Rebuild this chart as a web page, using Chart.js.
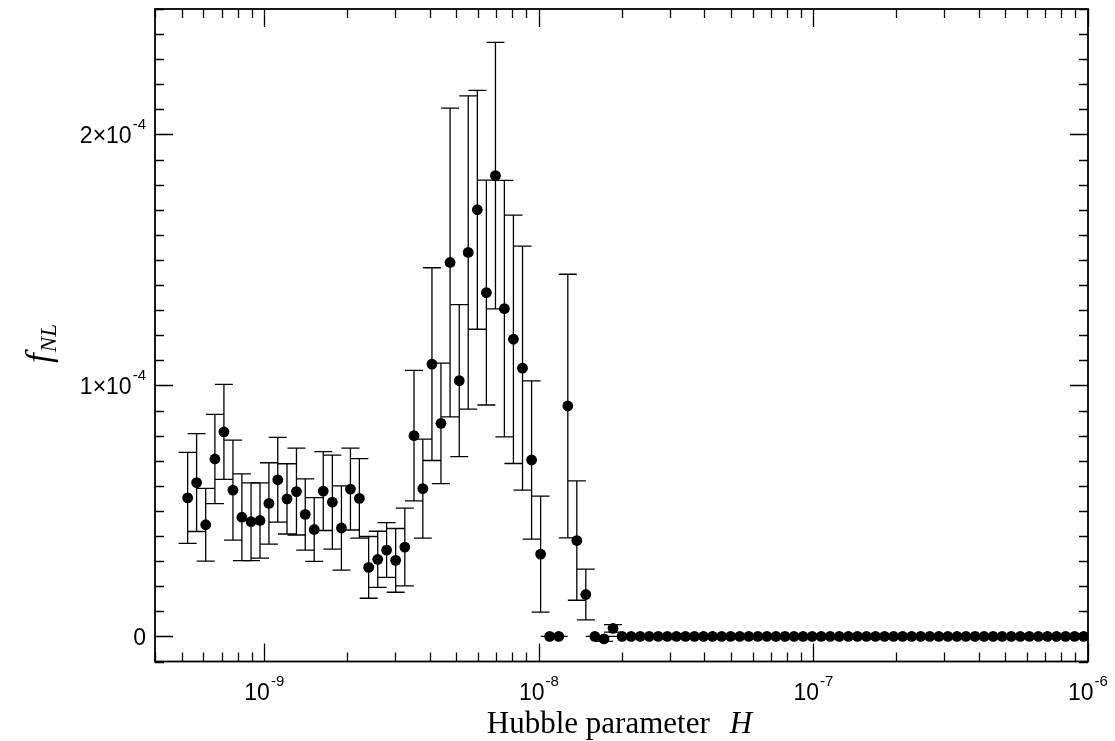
<!DOCTYPE html>
<html>
<head>
<meta charset="utf-8">
<script src="https://cdn.jsdelivr.net/npm/chart.js@4/dist/chart.umd.min.js"></script>
<style>
  html, body { margin: 0; padding: 0; background: #fff; }
  #wrap { width: 1115px; height: 741px; }
</style>
</head>
<body>
<div id="wrap"><canvas id="c" width="1115" height="741"></canvas></div>
<script>
// Hubble parameter grid (log-spaced samples)
const hubble = [
  5.26e-10, 5.67e-10, 6.12e-10, 6.61e-10, 7.13e-10, 7.69e-10, 8.29e-10, 8.95e-10, 9.65e-10, 1.04e-9,
  1.12e-9, 1.21e-9, 1.31e-9, 1.41e-9, 1.52e-9, 1.64e-9, 1.77e-9, 1.91e-9, 2.06e-9, 2.22e-9,
  2.40e-9, 2.59e-9, 2.79e-9, 3.01e-9, 3.25e-9, 3.51e-9, 3.78e-9, 4.08e-9, 4.40e-9, 4.75e-9,
  5.13e-9, 5.53e-9, 5.97e-9, 6.44e-9, 6.95e-9, 7.49e-9, 8.08e-9, 8.72e-9, 9.41e-9, 1.015e-8,
  1.095e-8, 1.181e-8, 1.275e-8, 1.375e-8, 1.483e-8, 1.600e-8, 1.727e-8, 1.863e-8, 2.010e-8, 2.168e-8,
  2.339e-8, 2.523e-8, 2.722e-8, 2.937e-8, 3.169e-8, 3.419e-8, 3.688e-8, 3.979e-8, 4.293e-8, 4.631e-8,
  4.996e-8, 5.390e-8, 5.815e-8, 6.274e-8, 6.768e-8, 7.302e-8, 7.878e-8, 8.499e-8, 9.169e-8, 9.892e-8,
  1.067e-7, 1.151e-7, 1.242e-7, 1.340e-7, 1.446e-7, 1.560e-7, 1.683e-7, 1.815e-7, 1.959e-7, 2.113e-7,
  2.280e-7, 2.459e-7, 2.653e-7, 2.862e-7, 3.088e-7, 3.332e-7, 3.594e-7, 3.878e-7, 4.183e-7, 4.513e-7,
  4.869e-7, 5.253e-7, 5.667e-7, 6.114e-7, 6.596e-7, 7.116e-7, 7.677e-7, 8.283e-7, 8.936e-7, 9.641e-7
];

// Mean f_NL at each H
const fNL = [
  5.52e-5, 6.13e-5, 4.45e-5, 7.07e-5, 8.15e-5, 5.83e-5, 4.75e-5, 4.57e-5, 4.62e-5, 5.30e-5,
  6.24e-5, 5.48e-5, 5.77e-5, 4.86e-5, 4.26e-5, 5.79e-5, 5.35e-5, 4.32e-5, 5.87e-5, 5.50e-5,
  2.75e-5, 3.07e-5, 3.44e-5, 3.03e-5, 3.56e-5, 8.00e-5, 5.89e-5, 10.85e-5, 8.49e-5, 14.90e-5,
  10.19e-5, 15.30e-5, 17.00e-5, 13.70e-5, 18.36e-5, 13.06e-5, 11.84e-5, 10.69e-5, 7.03e-5, 3.28e-5,
  0, 0, 9.18e-5, 3.82e-5, 1.67e-5, 0, -0.10e-5, 0.32e-5, 0, 0,
  0, 0, 0, 0, 0, 0, 0, 0, 0, 0,
  0, 0, 0, 0, 0, 0, 0, 0, 0, 0,
  0, 0, 0, 0, 0, 0, 0, 0, 0, 0,
  0, 0, 0, 0, 0, 0, 0, 0, 0, 0,
  0, 0, 0, 0, 0, 0, 0, 0, 0, 0
];

// Symmetric 1-sigma errors
const fNLerr = [
  1.81e-5, 1.95e-5, 1.45e-5, 1.78e-5, 1.89e-5, 1.99e-5, 1.73e-5, 1.55e-5, 1.50e-5, 1.62e-5,
  1.69e-5, 1.40e-5, 1.73e-5, 1.42e-5, 1.27e-5, 1.57e-5, 1.87e-5, 1.68e-5, 1.63e-5, 1.58e-5,
  1.23e-5, 1.12e-5, 1.09e-5, 1.27e-5, 1.55e-5, 2.60e-5, 1.97e-5, 3.84e-5, 2.40e-5, 6.15e-5,
  3.03e-5, 6.24e-5, 4.76e-5, 4.48e-5, 5.31e-5, 5.11e-5, 4.95e-5, 4.86e-5, 3.15e-5, 2.31e-5,
  0, 0, 5.25e-5, 2.38e-5, 1.01e-5, 0, 0.10e-5, 0.15e-5, 0, 0,
  0, 0, 0, 0, 0, 0, 0, 0, 0, 0,
  0, 0, 0, 0, 0, 0, 0, 0, 0, 0,
  0, 0, 0, 0, 0, 0, 0, 0, 0, 0,
  0, 0, 0, 0, 0, 0, 0, 0, 0, 0,
  0, 0, 0, 0, 0, 0, 0, 0, 0, 0
];

// Axis ranges and tick labels
const xRange = [4e-10, 1e-6];
const yRange = [-1e-5, 2.5e-4];
const xTickValues = [1e-9, 1e-8, 1e-7, 1e-6];
const xTickExponents = ['-9', '-8', '-7', '-6'];
const yTickValues = [0, 1e-4, 2e-4];
const yTickMantissas = ['0', '1\u00d710', '2\u00d710'];
const yTickExponents = ['', '-4', '-4'];
const yMinorStep = 1e-5;

const TICK_FONT = '23px "Liberation Sans", Arial, sans-serif';
const SUP_FONT = '15px "Liberation Sans", Arial, sans-serif';

// Vertical error bars with caps, drawn under the markers
const errorBars = {
  id: 'errorBars',
  beforeDatasetsDraw(chart) {
    const { ctx, chartArea: a, scales: { x, y } } = chart;
    ctx.save();
    ctx.beginPath();
    ctx.rect(a.left, a.top, a.right - a.left, a.bottom - a.top);
    ctx.clip();
    ctx.strokeStyle = '#000';
    ctx.lineWidth = 1.3;
    const cap = 9;
    hubble.forEach((h, i) => {
      const px = x.getPixelForValue(h);
      const yt = y.getPixelForValue(fNL[i] + fNLerr[i]);
      const yb = y.getPixelForValue(fNL[i] - fNLerr[i]);
      ctx.beginPath();
      ctx.moveTo(px, yt); ctx.lineTo(px, yb);
      ctx.moveTo(px - cap, yt); ctx.lineTo(px + cap, yt);
      ctx.moveTo(px - cap, yb); ctx.lineTo(px + cap, yb);
      ctx.stroke();
    });
    ctx.restore();
  }
};

// Draws "base" with a raised exponent; align is 'center' or 'right'
function drawPower(ctx, base, exp, x, baseline, align) {
  ctx.font = TICK_FONT;
  const wb = ctx.measureText(base).width;
  ctx.font = SUP_FONT;
  const we = exp ? ctx.measureText(exp).width + 1 : 0;
  const total = wb + we;
  const start = align === 'center' ? x - total / 2 : x - total;
  ctx.textAlign = 'left';
  ctx.textBaseline = 'alphabetic';
  ctx.font = TICK_FONT;
  ctx.fillText(base, start, baseline);
  if (exp) {
    ctx.font = SUP_FONT;
    ctx.fillText(exp, start + wb + 1, baseline - 14);
  }
}

// Boxed frame with inward ticks on all four sides, tick labels and axis titles
const frame = {
  id: 'frame',
  afterDraw(chart) {
    const { ctx, chartArea: a, scales: { x, y } } = chart;
    ctx.save();
    ctx.strokeStyle = '#000';
    ctx.fillStyle = '#000';
    ctx.lineWidth = 1.3;
    const major = 18, minor = 9;

    // y ticks (left and right)
    ctx.beginPath();
    for (let v = yRange[0]; v <= yRange[1] + 1e-12; v += yMinorStep) {
      const py = Math.round(y.getPixelForValue(v)) + 0.5;
      const isMajor = yTickValues.some(t => Math.abs(t - v) < 1e-9);
      const len = isMajor ? major : minor;
      ctx.moveTo(a.left, py); ctx.lineTo(a.left + len, py);
      ctx.moveTo(a.right, py); ctx.lineTo(a.right - len, py);
    }
    // x ticks (bottom and top)
    for (let d = -10; d <= -6; d++) {
      for (let k = 1; k <= 9; k++) {
        const v = k * Math.pow(10, d);
        if (v < xRange[0] * 0.999 || v > xRange[1] * 1.001) continue;
        const px = Math.round(x.getPixelForValue(v)) + 0.5;
        const len = k === 1 ? major : minor;
        ctx.moveTo(px, a.bottom); ctx.lineTo(px, a.bottom - len);
        ctx.moveTo(px, a.top); ctx.lineTo(px, a.top + len);
      }
    }
    ctx.stroke();

    // frame
    ctx.lineWidth = 1.8;
    ctx.strokeRect(a.left, a.top, a.right - a.left, a.bottom - a.top);

    // y tick labels
    yTickValues.forEach((v, i) => {
      const py = y.getPixelForValue(v);
      drawPower(ctx, yTickMantissas[i], yTickExponents[i], a.left - 9, py + 9, 'right');
    });
    // x tick labels
    xTickValues.forEach((v, i) => {
      const px = x.getPixelForValue(v);
      drawPower(ctx, '10', xTickExponents[i], px, a.bottom + 38.5, 'center');
    });

    // x axis title: "Hubble parameter  H"
    const cx = (a.left + a.right) / 2;
    ctx.font = '31px "Liberation Serif", "Times New Roman", serif';
    const t1 = 'Hubble parameter';
    const w1 = ctx.measureText(t1).width;
    ctx.font = 'italic 31px "Liberation Serif", "Times New Roman", serif';
    const wH = ctx.measureText('H').width;
    const gap = 20;
    const sx = cx - (w1 + gap + wH) / 2 - 2;
    ctx.textAlign = 'left';
    ctx.textBaseline = 'alphabetic';
    ctx.font = '31px "Liberation Serif", "Times New Roman", serif';
    ctx.fillText(t1, sx, 733);
    ctx.font = 'italic 31px "Liberation Serif", "Times New Roman", serif';
    ctx.fillText('H', sx + w1 + gap, 733);

    // y axis title: f_NL (rotated)
    ctx.save();
    ctx.translate(50, 344);
    ctx.rotate(-Math.PI / 2);
    ctx.font = 'italic 35px "Liberation Serif", "Times New Roman", serif';
    const wf = ctx.measureText('f').width;
    ctx.font = 'italic 23px "Liberation Serif", "Times New Roman", serif';
    const wNL = ctx.measureText('NL').width;
    const s0 = -(wf + wNL) / 2;
    ctx.font = 'italic 35px "Liberation Serif", "Times New Roman", serif';
    ctx.fillText('f', s0, 0);
    ctx.font = 'italic 23px "Liberation Serif", "Times New Roman", serif';
    ctx.fillText('NL', s0 + wf + 1, 6);
    ctx.restore();

    ctx.restore();
  }
};

new Chart(document.getElementById('c'), {
  type: 'scatter',
  data: {
    datasets: [{
      data: hubble.map((h, i) => ({ x: h, y: fNL[i] })),
      pointRadius: 5.4,
      pointHoverRadius: 5.4,
      pointBackgroundColor: '#000',
      pointBorderWidth: 0,
      showLine: false
    }]
  },
  options: {
    responsive: false,
    animation: false,
    devicePixelRatio: 1,
    layout: { padding: { left: 155, right: 27, top: 9, bottom: 79.5 } },
    plugins: { legend: { display: false }, tooltip: { enabled: false } },
    scales: {
      x: { type: 'logarithmic', min: xRange[0], max: xRange[1], display: false },
      y: { type: 'linear', min: yRange[0], max: yRange[1], display: false }
    }
  },
  plugins: [errorBars, frame]
});
</script>
</body>
</html>
